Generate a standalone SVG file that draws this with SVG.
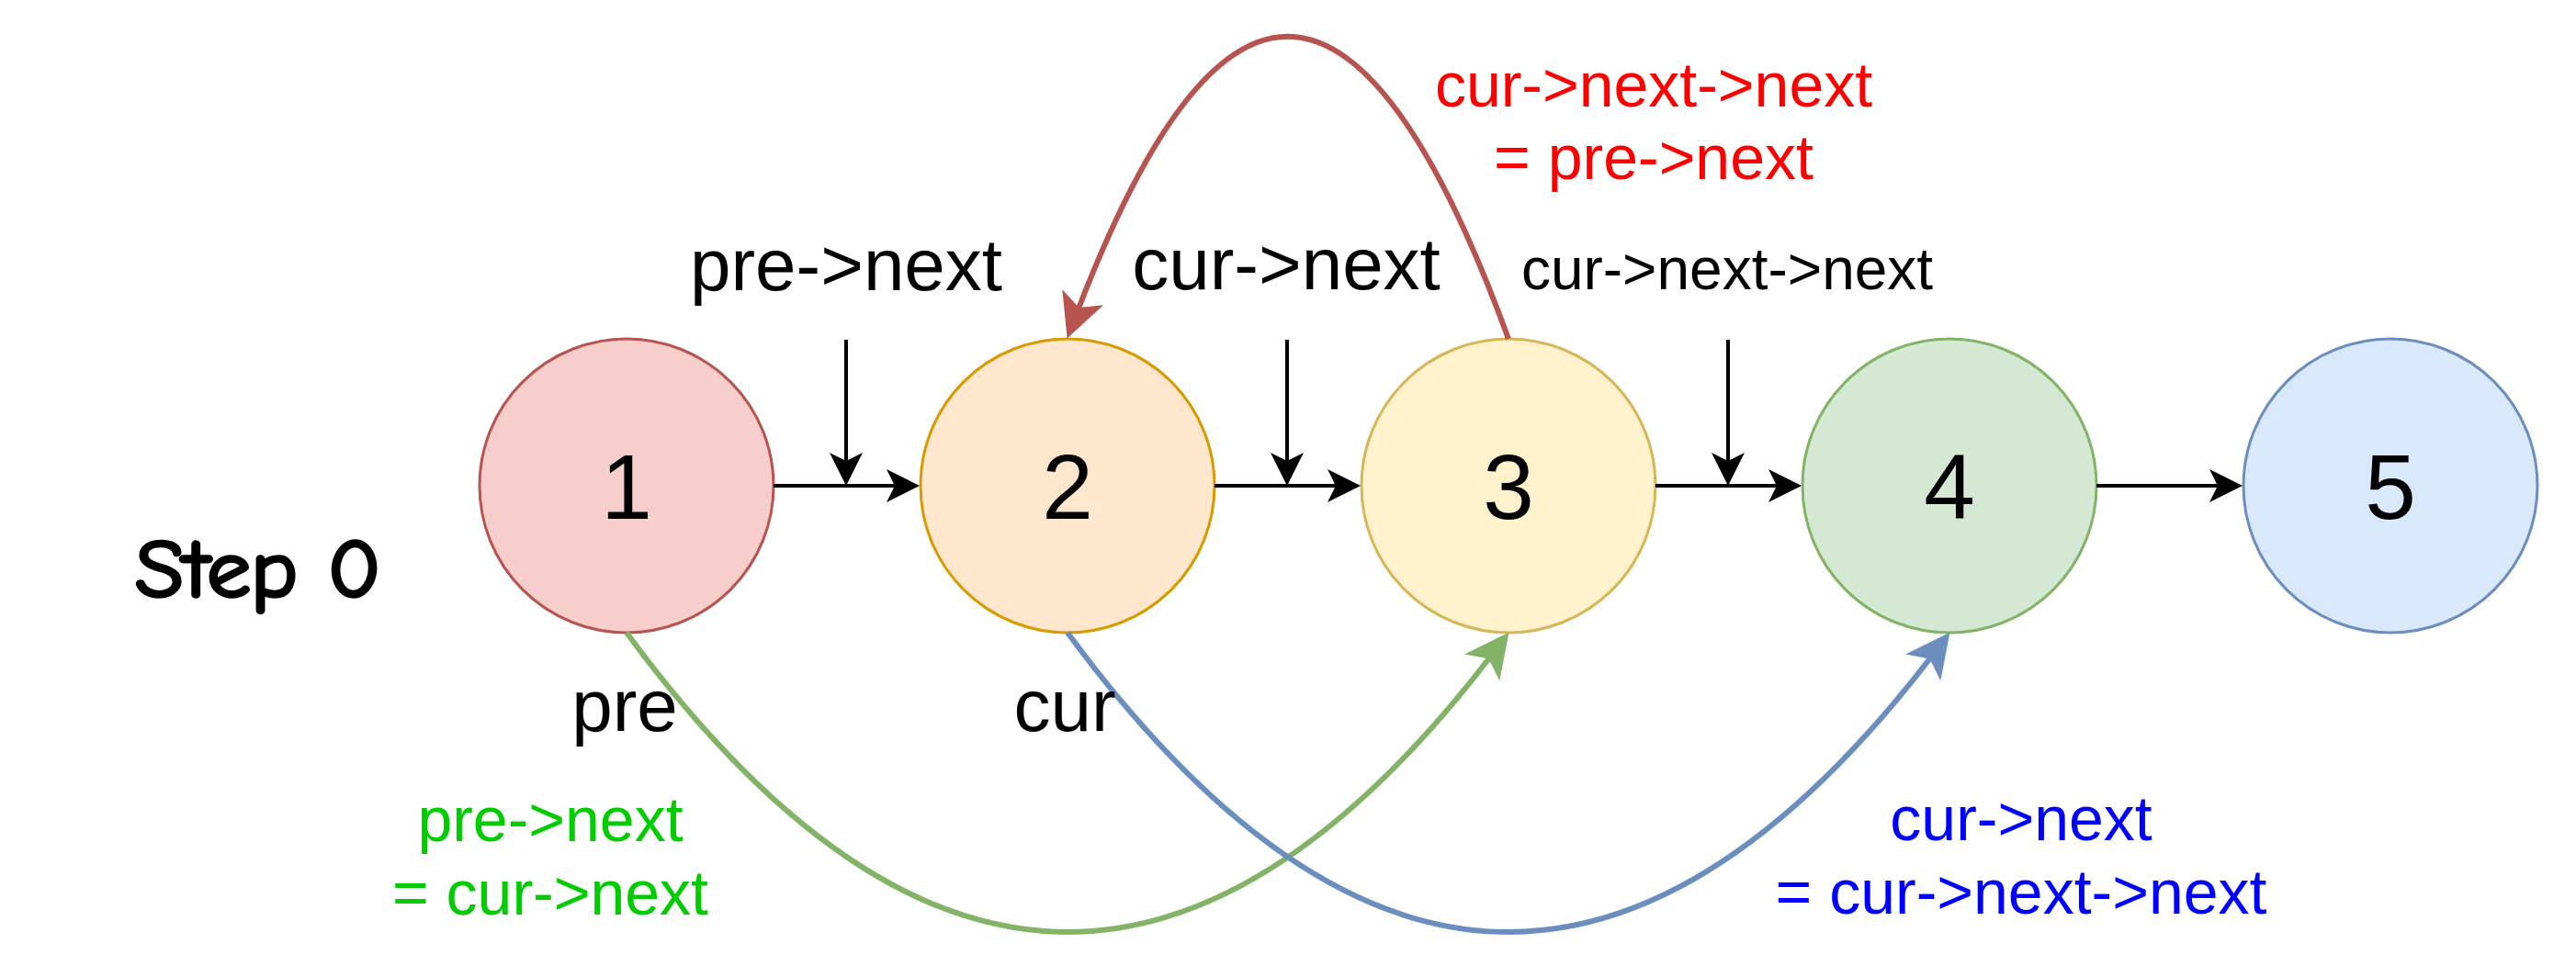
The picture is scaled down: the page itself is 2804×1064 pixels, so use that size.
<svg xmlns="http://www.w3.org/2000/svg" width="2804" height="1064" viewBox="0 0 2804 1064">
  <style>
    .node { stroke-width: 3; }
    .num { font-family: "Liberation Sans", Arial, Helvetica, sans-serif; font-size: 100px; text-anchor: middle; fill: #000000; }
    .lbl { font-family: "Liberation Sans", Arial, Helvetica, sans-serif; text-anchor: middle; }
    .big { font-size: 80px; fill: #000000; }
    .small { font-size: 64px; fill: #000000; }
    .note { font-size: 68px; }
    .link { fill: none; stroke: #000000; stroke-width: 4; }
    .curve { fill: none; stroke-width: 6; }
  </style>
  <defs>
    <marker id="arrowBlack" markerUnits="userSpaceOnUse" orient="auto" markerWidth="60" markerHeight="60" viewBox="-30 -30 60 60" refX="0" refY="0" overflow="visible">
      <path d="M20,0 L-16,-18 L-7,0 L-16,18 Z" fill="#000000"/>
    </marker>
    <marker id="arrowRed" markerUnits="userSpaceOnUse" orient="auto" markerWidth="80" markerHeight="80" viewBox="-40 -40 80 80" refX="0" refY="0" overflow="visible">
      <path d="M30,0 L-18,-24 L-6,0 L-18,24 Z" fill="#b85450"/>
    </marker>
    <marker id="arrowGreen" markerUnits="userSpaceOnUse" orient="auto" markerWidth="80" markerHeight="80" viewBox="-40 -40 80 80" refX="0" refY="0" overflow="visible">
      <path d="M30,0 L-18,-24 L-6,0 L-18,24 Z" fill="#82b366"/>
    </marker>
    <marker id="arrowBlue" markerUnits="userSpaceOnUse" orient="auto" markerWidth="80" markerHeight="80" viewBox="-40 -40 80 80" refX="0" refY="0" overflow="visible">
      <path d="M30,0 L-18,-24 L-6,0 L-18,24 Z" fill="#6c8ebf"/>
    </marker>
  </defs>

  <rect x="0" y="0" width="2804" height="1064" fill="#ffffff"/>

  <g id="node-1">
    <circle class="node" cx="682" cy="529" r="160" fill="#f8cecc" stroke="#b85450"/>
    <text class="num" x="682" y="565">1</text>
  </g>
  <g id="node-2">
    <circle class="node" cx="1162" cy="529" r="160" fill="#ffe6cc" stroke="#d79b00"/>
    <text class="num" x="1162" y="565">2</text>
  </g>
  <g id="node-3">
    <circle class="node" cx="1642" cy="529" r="160" fill="#fff2cc" stroke="#d6b656"/>
    <text class="num" x="1642" y="565">3</text>
  </g>
  <g id="node-4">
    <circle class="node" cx="2122" cy="529" r="160" fill="#d5e8d4" stroke="#82b366"/>
    <text class="num" x="2122" y="565">4</text>
  </g>
  <g id="node-5">
    <circle class="node" cx="2602" cy="529" r="160" fill="#dae8fc" stroke="#6c8ebf"/>
    <text class="num" x="2602" y="565">5</text>
  </g>

  <g id="connectors">
    <path class="link" d="M842,529 H981" marker-end="url(#arrowBlack)"/>
    <path class="link" d="M1322,529 H1461" marker-end="url(#arrowBlack)"/>
    <path class="link" d="M1802,529 H1941" marker-end="url(#arrowBlack)"/>
    <path class="link" d="M2282,529 H2421" marker-end="url(#arrowBlack)"/>
    <path class="link" d="M921,370 V509" marker-end="url(#arrowBlack)"/>
    <path class="link" d="M1401,370 V509" marker-end="url(#arrowBlack)"/>
    <path class="link" d="M1881,370 V509" marker-end="url(#arrowBlack)"/>
    <path class="curve" stroke="#b85450" d="M1642,369 Q1407.1,-274.9 1172.3,340.5" marker-end="url(#arrowRed)"/>
    <path class="curve" stroke="#82b366" d="M682,689 Q1153.1,1328.9 1624.2,712.7" marker-end="url(#arrowGreen)"/>
    <path class="curve" stroke="#6c8ebf" d="M1162,689 Q1633.1,1328.9 2104.2,712.7" marker-end="url(#arrowBlue)"/>
  </g>

  <g id="labels">
    <text id="step-label" x="147" y="650" font-family="'Comic Sans MS', 'Comic Neue', 'DejaVu Sans', sans-serif" font-size="88" fill="#000000" stroke="#000000" stroke-width="3.5" stroke-linejoin="round" textLength="268" lengthAdjust="spacingAndGlyphs">Step 0</text>
    <text class="lbl big" x="921" y="316">pre-&gt;next</text>
    <text class="lbl big" x="1400" y="315">cur-&gt;next</text>
    <text class="lbl small" x="1880" y="315">cur-&gt;next-&gt;next</text>
    <text class="lbl big" x="680" y="796">pre</text>
    <text class="lbl big" x="1159" y="796">cur</text>
    <text class="lbl note" fill="#ff0000" x="1800" y="116">cur-&gt;next-&gt;next</text>
    <text class="lbl note" fill="#ff0000" x="1800" y="195">= pre-&gt;next</text>
    <text class="lbl note" fill="#00cc00" x="599" y="916">pre-&gt;next</text>
    <text class="lbl note" fill="#00cc00" x="599" y="996">= cur-&gt;next</text>
    <text class="lbl note" fill="#0000ff" x="2200" y="915">cur-&gt;next</text>
    <text class="lbl note" fill="#0000ff" x="2200" y="995">= cur-&gt;next-&gt;next</text>
  </g>
</svg>
